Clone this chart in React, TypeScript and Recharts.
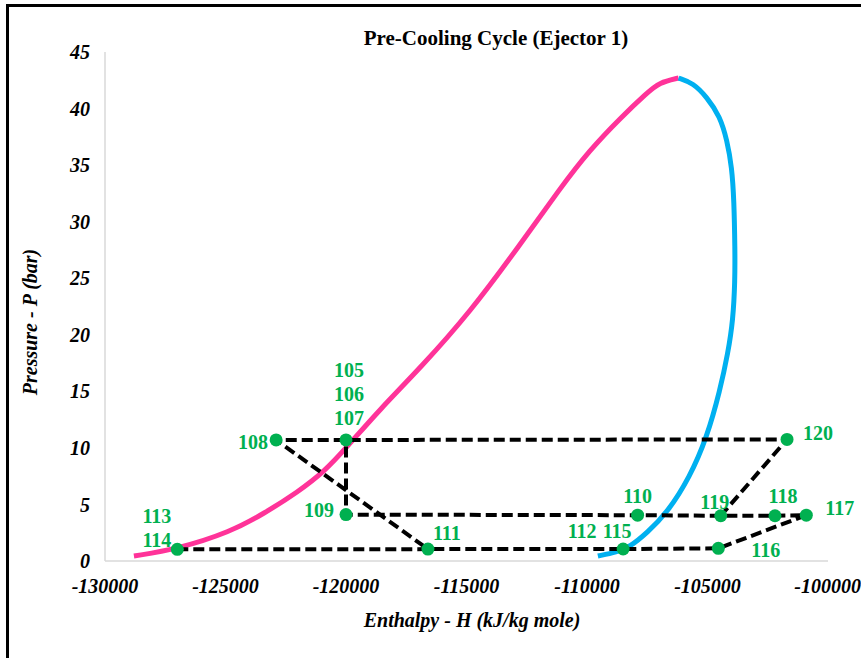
import { ScatterChart, Scatter, XAxis, YAxis } from "recharts";

const hTicks = [-130000, -125000, -120000, -115000, -110000, -105000, -100000];
const pTicks = [0, 5, 10, 15, 20, 25, 30, 35, 40, 45];

// saturated liquid branch of the envelope
const liquidH = [-128800, -127000, -124800, -123400, -122000, -120900, -119950, -118600, -116900, -114850, -112800, -111100, -109900, -108600, -107500, -107000, -106200];
const liquidP = [0.44, 1.06, 2.56, 4.2, 6.1, 7.9, 10.1, 13.4, 17.1, 22.0, 27.9, 33.0, 36.3, 39.2, 41.4, 42.3, 42.7];

// saturated vapour branch
const vaporH = [-106200, -105600, -105020, -104480, -104190, -103990, -103900, -103860, -103860, -103940, -104150, -104480, -105020, -105730, -106680, -107510, -108220, -108760, -109550];
const vaporP = [42.7, 42.26, 41.0, 39.3, 37.2, 34.8, 31.9, 27.5, 24.8, 21.3, 18.4, 15.1, 10.96, 7.43, 4.24, 2.48, 1.24, 0.8, 0.44];

// cycle state points (stream numbers sharing a state are grouped)
const stateIds = ["107", "108", "109", "110", "111", "114", "115", "116", "117", "118", "119", "120"];
const stateNames = [["105", "106", "107"], ["108"], ["109"], ["110"], ["111"], ["113", "114"], ["112", "115"], ["116"], ["117"], ["118"], ["119"], ["120"]];
const stateH = [-120000, -122900, -120000, -107900, -116600, -127000, -108500, -104550, -100900, -102200, -104450, -101700];
const stateP = [10.7, 10.7, 4.1, 4.05, 1.05, 1.03, 1.06, 1.12, 4.05, 4.0, 4.0, 10.75];

// stream connections drawn as dashed polylines
const cyclePaths = [
  ["114", "111", "115", "116", "117", "118", "119", "120", "107", "108", "111"],
  ["119", "110", "109", "107"],
];

const GREEN = "#00B050";
const SERIF = "'Liberation Serif', 'DejaVu Serif', serif";

// where each stream number sits around its marker
const labelPos: Record<string, [number, number, "start" | "middle" | "end"]> = {
  "105": [3, -63, "middle"],
  "106": [3, -39, "middle"],
  "107": [3, -15, "middle"],
  "108": [-8, 9, "end"],
  "109": [-12, 2, "end"],
  "110": [0, -12, "middle"],
  "111": [5, -9, "start"],
  "112": [-41, -11, "middle"],
  "113": [-6, -26, "end"],
  "114": [-6, -2, "end"],
  "115": [-6, -11, "middle"],
  "116": [33, 9, "start"],
  "117": [19, 0, "start"],
  "118": [8, -13, "middle"],
  "119": [-6, -7, "middle"],
  "120": [16, 1, "start"],
};

const liquidData = liquidH.map((h, i) => ({ h, p: liquidP[i] }));
const vaporData = vaporH.map((h, i) => ({ h, p: vaporP[i] }));
const stateData = stateIds.map((id, i) => ({ id, h: stateH[i], p: stateP[i], names: stateNames[i] }));
const pathData = cyclePaths.map((path) =>
  path.map((id) => {
    const i = stateIds.indexOf(id);
    return { h: stateH[i], p: stateP[i] };
  })
);

const noPoint = () => <g />;

function StateDot(props: any) {
  const { cx, cy, payload } = props;
  if (typeof cx !== "number" || typeof cy !== "number") return <g />;
  return (
    <g>
      <circle cx={cx} cy={cy} r={6.5} fill={GREEN} />
      {payload.names.map((n: string) => {
        const [dx, dy, anchor] = labelPos[n] ?? [10, 0, "start"];
        return (
          <text
            key={n}
            x={cx + dx}
            y={cy + dy}
            textAnchor={anchor}
            fill={GREEN}
            fontFamily={SERIF}
            fontWeight="bold"
            fontSize={20}
          >
            {n}
          </text>
        );
      })}
    </g>
  );
}

const tickStyle = {
  fill: "#000",
  fontFamily: SERIF,
  fontWeight: "bold",
  fontStyle: "italic",
  fontSize: 20,
};

export default function App() {
  return (
    <div
      style={{
        position: "absolute",
        left: 0,
        top: 0,
        width: 861,
        height: 658,
        overflow: "hidden",
        background: "#fff",
        fontFamily: SERIF,
      }}
    >
      <ScatterChart width={861} height={658} margin={{ top: 52, right: 33, bottom: 57, left: 45 }}>
        <XAxis
          type="number"
          dataKey="h"
          domain={[-130000, -100000]}
          ticks={hTicks}
          height={40}
          tickLine={false}
          tickSize={0}
          tickMargin={18}
          axisLine={{ stroke: "#D9D9D9", strokeWidth: 1.5 }}
          tick={tickStyle}
        />
        <YAxis
          type="number"
          dataKey="p"
          domain={[0, 45]}
          ticks={pTicks}
          width={60}
          tickLine={false}
          tickSize={0}
          tickMargin={15}
          axisLine={{ stroke: "#D9D9D9", strokeWidth: 1.5 }}
          tick={tickStyle}
        />
        <Scatter
          data={liquidData}
          line={{ stroke: "#FF3399", strokeWidth: 5 }}
          lineJointType="basis"
          shape={noPoint}
          isAnimationActive={false}
        />
        <Scatter
          data={vaporData}
          line={{ stroke: "#00B0F0", strokeWidth: 5 }}
          lineJointType="basis"
          shape={noPoint}
          isAnimationActive={false}
        />
        {pathData.map((d, i) => (
          <Scatter
            key={i}
            data={d}
            line={{ stroke: "#000", strokeWidth: 4, strokeDasharray: "11 5" }}
            lineJointType="linear"
            shape={noPoint}
            isAnimationActive={false}
          />
        ))}
        <Scatter data={stateData} shape={StateDot} isAnimationActive={false} />
      </ScatterChart>

      <div
        style={{
          position: "absolute",
          left: 496,
          top: 38,
          transform: "translate(-50%, -50%)",
          whiteSpace: "nowrap",
          fontWeight: "bold",
          fontSize: 21,
          lineHeight: 1,
        }}
      >
        Pre-Cooling Cycle (Ejector 1)
      </div>
      <div
        style={{
          position: "absolute",
          left: 472,
          top: 620,
          transform: "translate(-50%, -50%)",
          whiteSpace: "nowrap",
          fontWeight: "bold",
          fontStyle: "italic",
          fontSize: 20,
          lineHeight: 1,
        }}
      >
        Enthalpy - H (kJ/kg mole)
      </div>
      <div
        style={{
          position: "absolute",
          left: 30,
          top: 322,
          transform: "translate(-50%, -50%) rotate(-90deg)",
          whiteSpace: "nowrap",
          fontWeight: "bold",
          fontStyle: "italic",
          fontSize: 20,
          lineHeight: 1,
        }}
      >
        Pressure - P (bar)
      </div>
      <div
        style={{
          position: "absolute",
          left: 6,
          top: 4,
          right: -10,
          bottom: -10,
          borderLeft: "3px solid #000",
          borderTop: "3px solid #000",
        }}
      />
    </div>
  );
}
